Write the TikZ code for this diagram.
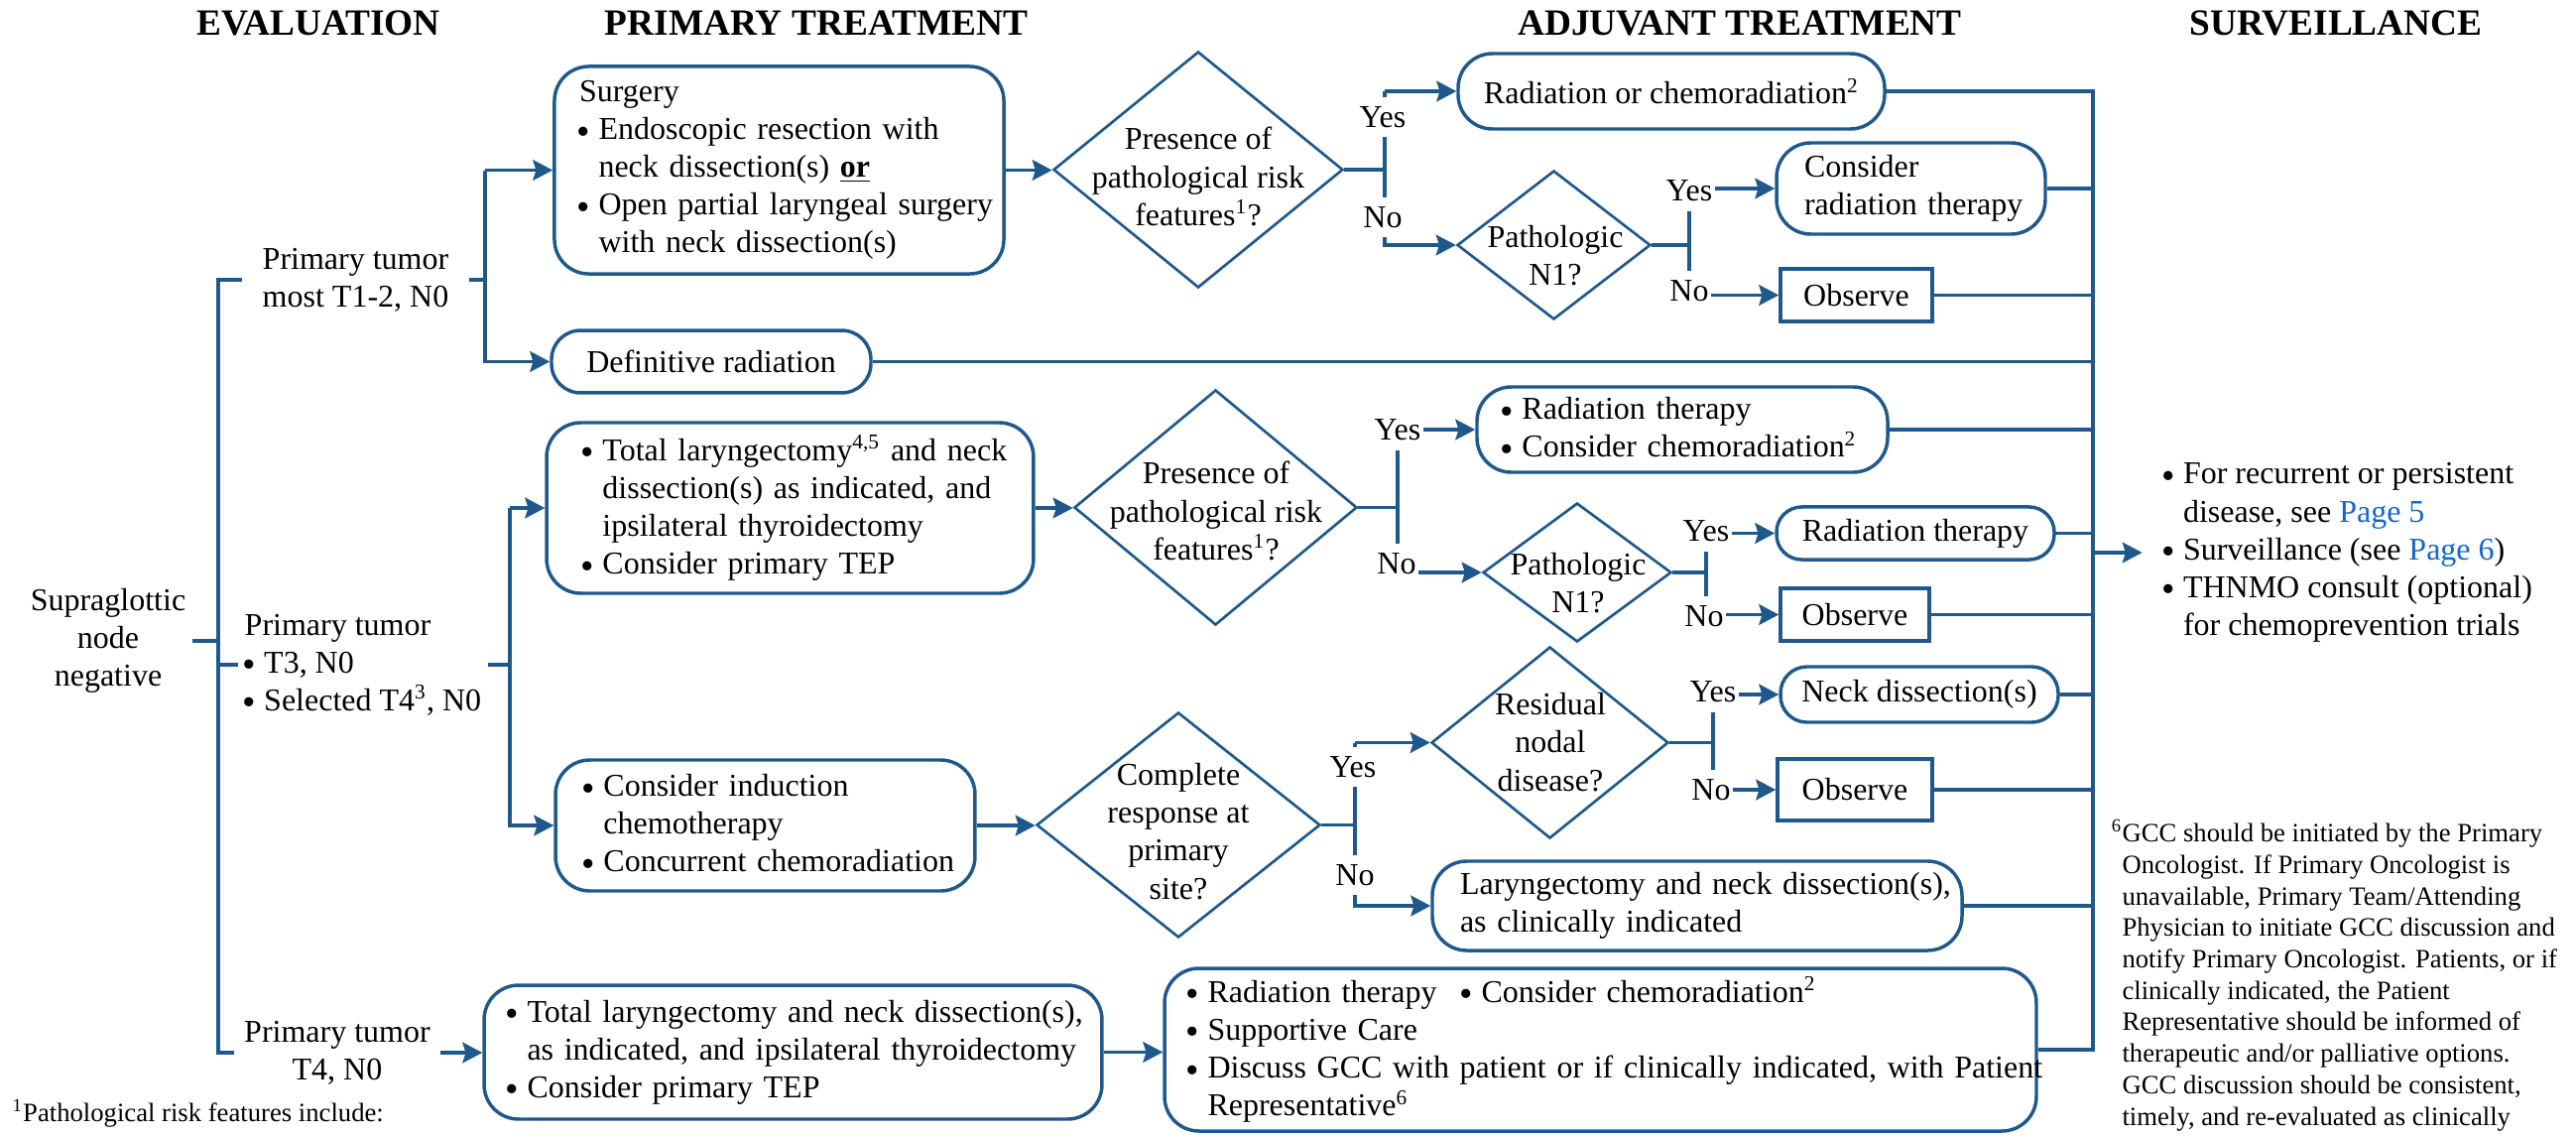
\documentclass[tikz,border=0pt]{standalone}
\usepackage{fontspec}
\usepackage{graphicx}
\setmainfont{Liberation Serif}
\usetikzlibrary{shapes.geometric,arrows.meta}
\definecolor{flow}{RGB}{31,89,140}
\definecolor{linkblue}{RGB}{20,102,204}
% list bullet: dot starts at the left edge of its cell, slightly larger and lower than the font's bullet
\newcommand{\bul}[1][7.3pt]{\makebox[#1][l]{\hspace*{-0.9pt}\raisebox{-1.7pt}{\scalebox{1.2}{\textbullet}}}}
\newcommand{\ind}[1][7.3pt]{\hspace*{#1}}

\begin{document}
\begin{tikzpicture}[x=0.375pt,y=-0.375pt,
  every node/.style={font=\fontsize{12}{14.3}\selectfont},
  box/.style={draw=flow, line width=1.3pt, rounded corners=#1, inner sep=0pt, align=left},
  box/.default=13pt,
  cbox/.style={draw=flow, line width=1.3pt, rounded corners=#1, inner sep=0pt, align=center},
  cbox/.default=13pt,
  sqbox/.style={draw=flow, line width=1.3pt, inner sep=0pt, align=center},
  dia/.style={draw=flow, line width=1pt, diamond, inner sep=0pt},
  dtext/.style={align=center, inner sep=0pt},
  conn/.style={draw=flow, line width=1.2pt},
  arr/.style={conn, -{Stealth[length=7.5pt,width=7.8pt,inset=1.2pt]}},
  lbl/.style={fill=white, inner xsep=0.8pt, inner ysep=3.5pt},
  hdr/.style={font=\fontsize{14}{16}\selectfont\bfseries, inner sep=0pt},
  txt/.style={inner ysep=0pt, inner xsep=#1},
  txt/.default=2.5pt,
  note/.style={font=\fontsize{10}{11.9}\selectfont, inner sep=0pt, align=left}]

\useasboundingbox (0,0) rectangle (2597,1144);

% column headers
\node[hdr] (hEval) at (321,23.5) {EVALUATION};
\node[hdr] (hPrim) at (823,23.5) {PRIMARY TREATMENT};
\node[hdr] (hAdj)  at (1754,23.5) {ADJUVANT TREATMENT};
\node[hdr] (hSurv) at (2355,23.5) {SURVEILLANCE};

% evaluation
\node[txt, align=center] (sup) at (109,646) {Supraglottic\\node\\negative};
\node[txt=7.5pt, align=left] (pt1) at (358.5,282) {Primary tumor\\most T1-2, N0};
\node[txt, align=left] (pt2) at (366,670) {Primary tumor\\\bul T3, N0\\\bul Selected T4\textsuperscript{3}, N0};
\node[txt=3.5pt, align=center] (pt3) at (340,1061) {Primary tumor\\T4, N0};

% primary treatment
\node[box, minimum width=169.9pt, minimum height=78.4pt, text width=151.1pt] (surg) at (785.5,171.5)
  {\mbox{Surgery}\\\mbox{\bul Endoscopic resection with}\\\mbox{\ind neck dissection(s) \textbf{\underline{or}}}\\\mbox{\bul Open partial laryngeal surgery}\\\mbox{\ind with neck dissection(s)}};
\node[cbox=11pt, minimum width=120.75pt, minimum height=23.6pt] (defrad) at (717,364.5) {Definitive radiation};
\node[box, minimum width=184.1pt, minimum height=64.5pt, text width=156.4pt] (tl) at (796.5,512)
  {\mbox{\bul Total laryngectomy\textsuperscript{4,5} and neck}\\\mbox{\ind dissection(s) as indicated, and}\\\mbox{\ind ipsilateral thyroidectomy}\\\mbox{\bul Consider primary TEP}};
\node[box, minimum width=158.6pt, minimum height=49.5pt, text width=136.9pt] (ind) at (771.5,832)
  {\mbox{\bul Consider induction}\\\mbox{\ind chemotherapy}\\\mbox{\bul Concurrent chemoradiation}};
\node[box, minimum width=233.6pt, minimum height=50.6pt, text width=215.6pt] (t4box) at (799.5,1060.5)
  {\mbox{\bul Total laryngectomy and neck dissection(s),}\\\mbox{\ind as indicated, and ipsilateral thyroidectomy}\\\mbox{\bul Consider primary TEP}};

% decisions
\node[dia, minimum width=109.5pt, minimum height=89.25pt] (d1) at (1208,171) {};
\node[dtext] (d1t) at (1208,178) {Presence of\\pathological risk\\features\textsuperscript{1}?};
\node[dia, minimum width=73.1pt, minimum height=56.25pt] (d2) at (1566.5,247) {};
\node[dtext] (d2t) at (1568,258) {Pathologic\\N1?};
\node[dia, minimum width=106.9pt, minimum height=88.9pt] (d3) at (1225.5,511.5) {};
\node[dtext] (d3t) at (1226,515) {Presence of\\pathological risk\\features\textsuperscript{1}?};
\node[dia, minimum width=71.25pt, minimum height=52.5pt] (d4) at (1590,577) {};
\node[dtext] (d4t) at (1591,588) {Pathologic\\N1?};
\node[dia, minimum width=107.25pt, minimum height=85.1pt] (d5) at (1188,831.5) {};
\node[dtext] (d5t) at (1188,838) {Complete\\response at\\primary\\site?};
\node[dia, minimum width=89.6pt, minimum height=72.4pt] (d6) at (1562.5,748.5) {};
\node[dtext] (d6t) at (1563,748) {Residual\\nodal\\disease?};

% adjuvant treatment
\node[cbox, minimum width=161.25pt, minimum height=28.5pt] (radchemo) at (1685,92) {Radiation or chemoradiation\textsuperscript{2}};
\node[box, minimum width=101.6pt, minimum height=34.5pt, text width=80.6pt] (considerrad) at (1926.5,190)
  {\mbox{Consider}\\\mbox{radiation therapy}};
\node[sqbox, minimum width=57.4pt, minimum height=19.9pt] (obs1) at (1871.5,297.5) {Observe};
\node[box, minimum width=155.25pt, minimum height=32.25pt, text width=135.75pt] (rtcc) at (1696,433)
  {\mbox{\bul Radiation therapy}\\\mbox{\bul Consider chemoradiation\textsuperscript{2}}};
\node[cbox=9.5pt, minimum width=105pt, minimum height=19.9pt] (rt2) at (1931,537.5) {Radiation therapy};
\node[sqbox, minimum width=56.25pt, minimum height=19.9pt] (obs2) at (1870,619.5) {Observe};
\node[cbox=10pt, minimum width=105pt, minimum height=21pt] (nd) at (1935,700) {Neck dissection(s)};
\node[sqbox, minimum width=58.5pt, minimum height=23.25pt] (obs3) at (1870,796) {Observe};
\node[box, minimum width=200.25pt, minimum height=33.75pt, text width=179.25pt] (lar) at (1711,913)
  {\mbox{Laryngectomy and neck dissection(s),}\\\mbox{as clinically indicated}};
\node[box, minimum width=329.6pt, minimum height=61.5pt, text width=311.6pt] (bottom) at (1613.5,1058)
  {\mbox{\makebox[103.5pt][l]{\bul Radiation therapy}\bul Consider chemoradiation\textsuperscript{2}}\\\mbox{\bul Supportive Care}\\\mbox{\bul Discuss GCC with patient or if clinically indicated, with Patient}\\\mbox{\ind Representative\textsuperscript{6}}};

% surveillance and footnotes
\node[anchor=west, inner sep=0pt, align=left] (surv) at (2181,557)
  {\bul For recurrent or persistent\\\ind disease, see \textcolor{linkblue}{Page 5}\\\bul Surveillance (see \textcolor{linkblue}{Page 6})\\\bul THNMO consult (optional)\\\ind for chemoprevention trials};
\node[note, anchor=north west] (fn6) at (2139,826)
  {\llap{\textsuperscript{6}}GCC should be initiated by the Primary\\Oncologist. If Primary Oncologist is\\unavailable, Primary Team/Attending\\Physician to initiate GCC discussion and\\notify Primary Oncologist. Patients, or if\\clinically indicated, the Patient\\Representative should be informed of\\therapeutic and/or palliative options.\\GCC discussion should be consistent,\\timely, and re-evaluated as clinically};
\node[note, anchor=base west] (fn1) at (12,1130) {\textsuperscript{1}Pathological risk features include:};

% bus positions
\coordinate (busA) at (220,0);
\coordinate (busB) at (489,0);
\coordinate (busC) at (514,0);
\coordinate (busR) at (2110,0);
\coordinate (s1) at (1396,0);
\coordinate (s5) at (1366,0);

% evaluation tree
\draw[conn] (sup.east) -- (sup.east -| busA);
\draw[conn] (pt1.west) -| (busA |- pt3.west) -- (pt3.west);
\draw[conn] (busA |- pt2.west) -- (pt2.west);
\draw[conn] (pt1.east) -- (pt1.east -| busB);
\draw[arr] (busB |- surg.west) -- (surg.west);
\draw[arr] (busB |- surg.west) |- (defrad.west);
\draw[conn] (pt2.east) -- (pt2.east -| busC);
\draw[arr] (busC |- tl.west) -- (tl.west);
\draw[arr] (busC |- tl.west) |- (ind.west);
\draw[arr] (pt3.east) -- (pt3.east -| t4box.west);

% primary treatment to decisions
\draw[arr] (surg.east) -- (surg.east -| d1.west);
\draw[arr] (tl.east) -- (tl.east -| d3.west);
\draw[arr] (ind.east) -- (ind.east -| d5.west);
\draw[arr] (t4box.east) -- (t4box.east -| bottom.west);

% decision 1
\draw[conn] (d1.east) -- (d1.east -| s1);
\draw[arr] (s1 |- radchemo.west) -- (radchemo.west);
\draw[arr] (s1 |- radchemo.west) |- (d2.west);
\node[lbl] (y1) at (1394,118) {Yes};
\node[lbl] (n1) at (1394,219) {No};

% decision 2
\node[lbl] (y2) at (1703,192) {Yes};
\node[lbl] (n2) at (1703,293) {No};
\draw[conn] (y2.south) -- (y2.south |- n2.north);
\draw[conn] (d2.east) -- (d2.east -| y2.south);
\draw[arr] (y2.east |- considerrad.west) -- (considerrad.west);
\draw[arr] (n2.east |- obs1.west) -- (obs1.west);

% decision 3
\node[lbl] (y3) at (1409,433) {Yes};
\node[lbl] (n3) at (1408,568) {No};
\draw[conn] (y3.south) -- (y3.south |- n3.north);
\draw[conn] (d3.east) -- (d3.east -| y3.south);
\draw[arr] (y3.east |- rtcc.west) -- (rtcc.west);
\draw[arr] (n3.east |- d4.west) -- (d4.west);

% decision 4
\node[lbl] (y4) at (1720,535) {Yes};
\node[lbl] (n4) at (1718,621) {No};
\draw[conn] (y4.south) -- (y4.south |- n4.north);
\draw[conn] (d4.east) -- (d4.east -| y4.south);
\draw[arr] (y4.east |- rt2.west) -- (rt2.west);
\draw[arr] (n4.east |- obs2.west) -- (obs2.west);

% decision 5
\draw[conn] (d5.east) -- (d5.east -| s5);
\draw[arr] (s5 |- d6.west) -- (d6.west);
\draw[arr] (s5 |- d6.west) |- (lar.west);
\node[lbl] (y5) at (1364,773) {Yes};
\node[lbl] (n5) at (1366,882) {No};

% decision 6
\node[lbl] (y6) at (1727,697) {Yes};
\node[lbl] (n6) at (1725,796) {No};
\draw[conn] (y6.south) -- (y6.south |- n6.north);
\draw[conn] (d6.east) -- (d6.east -| y6.south);
\draw[arr] (y6.east |- nd.west) -- (nd.west);
\draw[arr] (n6.east |- obs3.west) -- (obs3.west);

% collecting bus to surveillance
\draw[conn] (radchemo.east) -| (busR |- bottom.east) -- (bottom.east);
\foreach \n in {considerrad,obs1,defrad,rtcc,rt2,obs2,nd,obs3,lar}
  \draw[conn] (\n.east) -- (\n.east -| busR);
\draw[arr, shorten >=8pt] (busR |- surv.west) -- (surv.west);

\end{tikzpicture}
\end{document}
